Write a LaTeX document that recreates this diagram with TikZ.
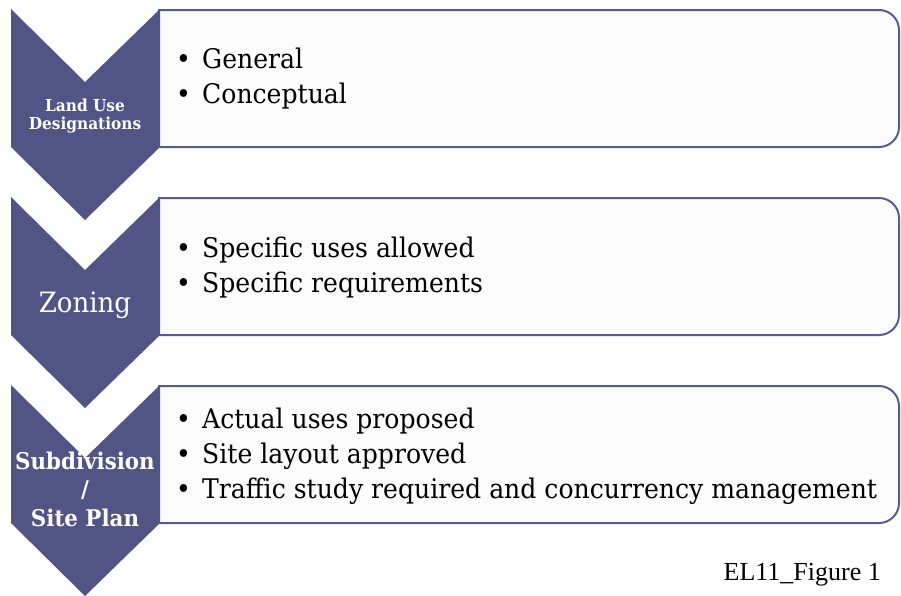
\documentclass[tikz,border=0pt]{standalone}
\usepackage{fontspec}
\setmainfont[FakeStretch=0.93]{DejaVu Serif}
\newfontfamily\capfont{Liberation Serif}
\definecolor{chev}{HTML}{535486}
\definecolor{boxline}{HTML}{5A5B94}
\definecolor{boxfill}{HTML}{FCFCFC}
\newcommand\bul{\makebox[26pt][l]{\textbullet}}
\tikzset{
  chevshape/.style={fill=chev},
  itembox/.style={draw=boxline, line width=2pt, fill=boxfill},
  bultext/.style={anchor=base west, inner sep=0pt, font=\fontsize{27}{35}\selectfont, text=black},
  chevlabel/.style={text=white, inner sep=0pt, align=center},
}
\newcommand\drawchev[1]{%
  \fill[chevshape] (11,#1) -- (85,#1+73) -- (160,#1) -- (160,#1+138) -- (85,#1+211) -- (11,#1+138) -- cycle;}
\newcommand\drawitembox[1]{%
  \draw[itembox] (158,#1+1) -- (879,#1+1) arc[start angle=-90,end angle=0,radius=20] -- (899,#1+118) arc[start angle=0,end angle=90,radius=20] -- (158,#1+138);}
\begin{document}
\begin{tikzpicture}[x=1pt,y=-1pt]
\useasboundingbox (0,0) rectangle (901,595);
% boxes
\drawitembox{9}
\drawitembox{197}
\drawitembox{385}
% chevrons
\drawchev{9}
\drawchev{197}
\drawchev{385}
% chevron labels
\node[chevlabel, anchor=base, font=\fontsize{16.5}{18}\selectfont\bfseries] (l1a) at (85,111) {Land Use};
\node[chevlabel, anchor=base, font=\fontsize{16.5}{18}\selectfont\bfseries] (l1b) at (85,129) {Designations};
\node[chevlabel, anchor=base, font=\fontsize{28}{30}\selectfont] (l2) at (85,312) {Zoning};
\node[chevlabel, anchor=base, font=\fontsize{23}{28}\selectfont\bfseries] (l3a) at (85,469) {Subdivision};
\node[chevlabel, anchor=base, font=\fontsize{23}{28}\selectfont\bfseries] (l3b) at (85,497) {/};
\node[chevlabel, anchor=base, font=\fontsize{23}{28}\selectfont\bfseries] (l3c) at (85,526) {Site Plan};
% bullet texts
\node[bultext] (t1a) at (176,68) {\bul General};
\node[bultext] (t1b) at (176,103) {\bul Conceptual};
\node[bultext] (t2a) at (176,257) {\bul Specific uses allowed};
\node[bultext] (t2b) at (176,292) {\bul Specific requirements};
\node[bultext] (t3a) at (176,428) {\bul Actual uses proposed};
\node[bultext] (t3b) at (176,463) {\bul Site layout approved};
\node[bultext] (t3c) at (176,498) {\bul Traffic study required and concurrency management};
% caption
\node[anchor=base east, inner sep=0pt, font=\capfont\fontsize{26}{28}\selectfont] (cap) at (881,580) {EL11\_Figure 1};
\end{tikzpicture}
\end{document}
